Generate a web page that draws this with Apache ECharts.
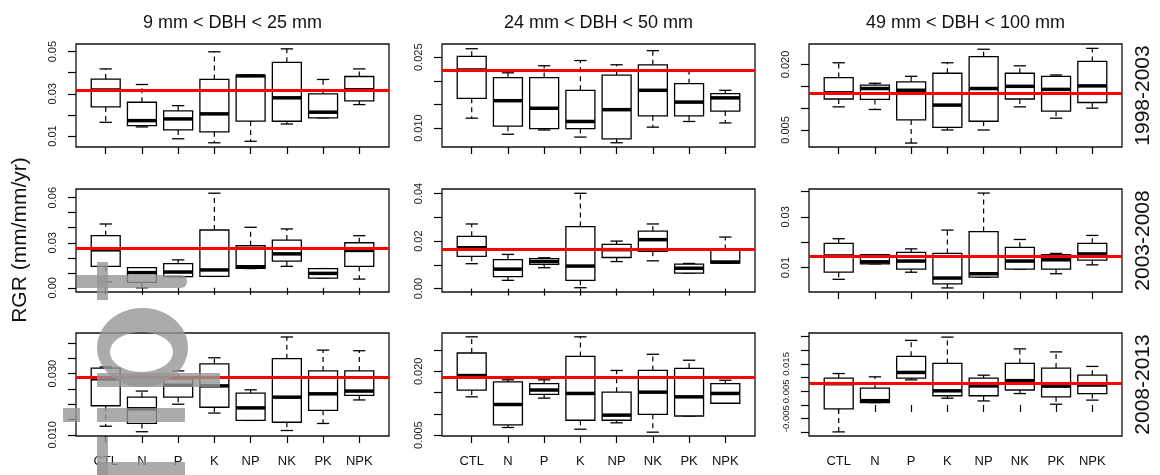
<!DOCTYPE html>
<html>
<head>
<meta charset="utf-8">
<script src="https://cdn.jsdelivr.net/npm/echarts@6/dist/echarts.min.js"></script>
<style>
html,body{margin:0;padding:0;background:#fff;}
#main{width:1160px;height:475px;}
</style>
</head>
<body>
<div id="main"></div>
<script>
// treatments on the x axis
var categories = ['CTL', 'N', 'P', 'K', 'NP', 'NK', 'PK', 'NPK'];
var colTitles = ['9 mm < DBH < 25 mm', '24 mm < DBH < 50 mm', '49 mm < DBH < 100 mm'];
var rowTitles = ['1998-2003', '2003-2008', '2008-2013'];

// box stats per treatment: [lower whisker, Q1, median, Q3, upper whisker]
var box_small_9803 = [[0.0165,0.0238,0.0318,0.0370,0.0418],[0.0143,0.0149,0.0173,0.0260,0.0344],[0.0087,0.0129,0.0181,0.0219,0.0244],[0.0068,0.0120,0.0205,0.0368,0.0499],
    [0.0075,0.0171,0.0385,0.0387,0.0389],[0.0157,0.0170,0.0281,0.0449,0.0513],[0.0186,0.0186,0.0213,0.0300,0.0368],[0.0249,0.0267,0.0319,0.0382,0.0418]];
var box_mid_9803 = [[0.0121,0.0163,0.0223,0.0252,0.0268],[0.0087,0.0104,0.0158,0.0207,0.0217],[0.0096,0.0099,0.0142,0.0207,0.0232],[0.0081,0.0099,0.0114,0.0180,0.0243],
    [0.0069,0.0077,0.0139,0.0212,0.0234],[0.0102,0.0126,0.0180,0.0234,0.0264],[0.0114,0.0126,0.0155,0.0194,0.0220],[0.0111,0.0136,0.0164,0.0173,0.0180]];
var box_large_9803 = [[0.0103,0.0121,0.0135,0.0170,0.0204],[0.0097,0.0120,0.0145,0.0153,0.0157],[0.0020,0.0073,0.0141,0.0160,0.0173],[0.0050,0.0056,0.0107,0.0180,0.0204],
    [0.0050,0.0070,0.0145,0.0218,0.0235],[0.0103,0.0121,0.0150,0.0180,0.0197],[0.0077,0.0093,0.0143,0.0173,0.0176],[0.0100,0.0113,0.0151,0.0207,0.0237]];
var box_small_0308 = [[0.0040,0.0143,0.0253,0.0347,0.0425],[0.0000,0.0036,0.0101,0.0134,0.0134],[0.0074,0.0074,0.0105,0.0161,0.0186],[0.0076,0.0076,0.0119,0.0385,0.0630],
    [0.0128,0.0130,0.0140,0.0280,0.0403],[0.0143,0.0177,0.0226,0.0318,0.0392],[0.0065,0.0065,0.0096,0.0128,0.0128],[0.0058,0.0143,0.0249,0.0300,0.0347]];
var box_mid_0308 = [[0.0105,0.0136,0.0172,0.0220,0.0272],[0.0035,0.0051,0.0082,0.0122,0.0144],[0.0088,0.0102,0.0114,0.0126,0.0130],[0.0004,0.0035,0.0095,0.0261,0.0401],
    [0.0114,0.0131,0.0164,0.0186,0.0200],[0.0117,0.0157,0.0206,0.0242,0.0272],[0.0065,0.0065,0.0086,0.0103,0.0106],[0.0107,0.0108,0.0112,0.0165,0.0217]];
var box_large_0308 = [[0.0054,0.0082,0.0146,0.0196,0.0214],[0.0115,0.0115,0.0123,0.0151,0.0151],[0.0082,0.0094,0.0126,0.0160,0.0174],[0.0020,0.0036,0.0059,0.0156,0.0248],
    [0.0063,0.0063,0.0076,0.0242,0.0394],[0.0094,0.0094,0.0126,0.0180,0.0211],[0.0076,0.0094,0.0131,0.0151,0.0156],[0.0111,0.0130,0.0154,0.0196,0.0227]];
var box_small_0813 = [[0.0128,0.0195,0.0283,0.0318,0.0322],[0.0110,0.0137,0.0185,0.0223,0.0243],[0.0200,0.0223,0.0262,0.0283,0.0309],[0.0171,0.0190,0.0260,0.0332,0.0352],
    [0.0147,0.0147,0.0188,0.0236,0.0247],[0.0114,0.0141,0.0223,0.0349,0.0420],[0.0137,0.0180,0.0234,0.0309,0.0377],[0.0214,0.0229,0.0243,0.0309,0.0375]];
var box_mid_0813 = [[0.0140,0.0156,0.0190,0.0243,0.0281],[0.0068,0.0074,0.0122,0.0175,0.0180],[0.0137,0.0146,0.0156,0.0171,0.0180],[0.0064,0.0085,0.0148,0.0235,0.0281],
    [0.0079,0.0085,0.0097,0.0151,0.0202],[0.0057,0.0099,0.0151,0.0202,0.0240],[0.0095,0.0095,0.0140,0.0207,0.0226],[0.0125,0.0125,0.0148,0.0171,0.0179]];
var box_large_0813 = [[-0.0098,-0.0014,0.0078,0.0098,0.0115],[0.0009,0.0009,0.0016,0.0062,0.0103],[0.0092,0.0098,0.0119,0.0178,0.0236],[0.0025,0.0034,0.0052,0.0152,0.0248],
    [0.0015,0.0034,0.0070,0.0098,0.0109],[0.0042,0.0055,0.0089,0.0152,0.0205],[0.0003,0.0030,0.0069,0.0135,0.0194],[0.0018,0.0042,0.0073,0.0109,0.0141]];

// overall mean (red line), row by row
var means = [0.0319, 0.0222, 0.0135, 0.0264, 0.0167, 0.0144, 0.0287, 0.0187, 0.0081];

// y scales, ticks and tick labels, row by row
var yMin = [0.0048, 0.0060, 0.0011, -0.0028, -0.0014, 0.0004, 0.0096, 0.0048, -0.0113];
var yMax = [0.0536, 0.0278, 0.0247, 0.0658, 0.0419, 0.0410, 0.0433, 0.0290, 0.0263];
var yTicks = [
    [0.01,0.02,0.03,0.04,0.05], [0.010,0.015,0.020,0.025], [0.005,0.010,0.015,0.020],
    [0,0.01,0.02,0.03,0.04,0.05,0.06], [0,0.01,0.02,0.03,0.04], [0.01,0.02,0.03,0.04],
    [0.010,0.015,0.020,0.025,0.030,0.035,0.040], [0.005,0.010,0.015,0.020,0.025], [-0.010,-0.005,0,0.005,0.010,0.015,0.020,0.025]
];
var yLabels = [
    [0.01,0.03,0.05], [0.010,0.025], [0.005,0.020],
    [0,0.03,0.06], [0,0.02,0.04], [0.01,0.03],
    [0.010,0.030], [0.005,0.020], [-0.005,0.005,0.015]
];
var yDecimals = [2, 3, 3, 2, 2, 2, 3, 3, 3];

var panels = [box_small_9803, box_mid_9803, box_large_9803,
              box_small_0308, box_mid_0308, box_large_0308,
              box_small_0813, box_mid_0813, box_large_0813];

// layout
var gridLeft = [76, 442, 809];
var gridTop = [44, 189, 333];
var gridW = 313, gridH = 103;
var FONT = 'Liberation Sans, Arial, Helvetica, sans-serif';

function renderBox(params, api) {
    var x = api.value(0);
    var pLo = api.coord([x, api.value(1)]);
    var pQ1 = api.coord([x, api.value(2)]);
    var pMd = api.coord([x, api.value(3)]);
    var pQ3 = api.coord([x, api.value(4)]);
    var pHi = api.coord([x, api.value(5)]);
    var band = api.size([1, 0])[0];
    var hw = band * 0.4, cw = band * 0.17;
    var cx = pMd[0];
    function dash() { return {stroke: '#000', lineWidth: 1.2, lineDash: [5, 4]}; }
    function thin() { return {stroke: '#000', lineWidth: 1.3}; }
    return {
        type: 'group',
        children: [
            {type: 'line', shape: {x1: cx, y1: pQ3[1], x2: cx, y2: pHi[1]}, style: dash()},
            {type: 'line', shape: {x1: cx, y1: pQ1[1], x2: cx, y2: pLo[1]}, style: dash()},
            {type: 'line', shape: {x1: cx - cw, y1: pHi[1], x2: cx + cw, y2: pHi[1]}, style: thin()},
            {type: 'line', shape: {x1: cx - cw, y1: pLo[1], x2: cx + cw, y2: pLo[1]}, style: thin()},
            {type: 'rect', shape: {x: cx - hw, y: pQ3[1], width: 2 * hw, height: pQ1[1] - pQ3[1]},
                style: {stroke: '#000', lineWidth: 1.3, fill: '#fff'}},
            {type: 'line', shape: {x1: cx - hw, y1: pMd[1], x2: cx + hw, y2: pMd[1]}, style: {stroke: '#000', lineWidth: 3.5}}
        ]
    };
}

var grids = [], xAxes = [], yAxes = [], series = [];
var catPos = categories.map(function (c, i) { return i + 1; });

for (var k = 0; k < 9; k++) {
    var row = Math.floor(k / 3), col = k % 3;
    grids.push({
        left: gridLeft[col], top: gridTop[row], width: gridW, height: gridH,
        show: true, borderColor: '#111', borderWidth: 1.3, backgroundColor: 'transparent',
        containLabel: false, outerBoundsMode: 'none'
    });
    xAxes.push({
        gridIndex: k, type: 'value', min: 0.18, max: 8.82,
        axisLine: {show: false}, splitLine: {show: false},
        axisTick: {show: true, customValues: catPos, length: 7, lineStyle: {color: '#000', width: 1.2}},
        axisLabel: {
            show: row === 2, customValues: catPos, margin: 19,
            fontSize: 13, color: '#111', fontFamily: FONT,
            formatter: function (v) { return categories[Math.round(v) - 1]; }
        }
    });
    (function (k) {
        yAxes.push({
            gridIndex: k, type: 'value', min: yMin[k], max: yMax[k],
            axisLine: {show: false}, splitLine: {show: false},
            axisTick: {show: true, customValues: yTicks[k], length: 8, lineStyle: {color: '#000', width: 1.2}},
            axisLabel: {
                customValues: yLabels[k], rotate: 90, margin: 18,
                align: 'center', verticalAlign: 'bottom', hideOverlap: false,
                fontSize: yLabels[k].length > 2 && yDecimals[k] === 3 ? 9.5 : 11,
                color: '#222', fontFamily: FONT,
                formatter: function (v) { return v.toFixed(yDecimals[k]); }
            }
        });
    })(k);
    series.push({
        type: 'custom', xAxisIndex: k, yAxisIndex: k,
        renderItem: renderBox,
        data: panels[k].map(function (s, i) { return [i + 1].concat(s); }),
        encode: {x: 0, y: [1, 2, 3, 4, 5]},
        markLine: {
            silent: true, symbol: ['none', 'none'], label: {show: false}, precision: 6,
            lineStyle: {color: '#ff0000', width: 3, type: 'solid'},
            data: [{yAxis: means[k]}]
        }
    });
}

var graphics = [];
colTitles.forEach(function (t, c) {
    graphics.push({type: 'text', x: gridLeft[c] + gridW / 2, y: 23,
        style: {text: t, fontSize: 18, fontFamily: FONT, fill: '#111', align: 'center', verticalAlign: 'middle'}});
});
rowTitles.forEach(function (t, r) {
    graphics.push({type: 'text', x: 1143, y: gridTop[r] + gridH / 2, rotation: Math.PI / 2,
        style: {text: t, fontSize: 21, fontFamily: FONT, fill: '#111', align: 'center', verticalAlign: 'middle'}});
});
graphics.push({type: 'text', x: 20, y: 240, rotation: Math.PI / 2,
    style: {text: 'RGR (mm/mm/yr)', fontSize: 21, fontFamily: FONT, fill: '#111', align: 'center', verticalAlign: 'middle'}});

// grey stamp left over on the lower-left corner of the scan
function ellipsePts(cx, cy, rx, ry, reverse) {
    var pts = [];
    for (var i = 0; i <= 48; i++) {
        var a = (reverse ? -1 : 1) * i / 48 * Math.PI * 2;
        pts.push([cx + rx * Math.cos(a), cy + ry * Math.sin(a)]);
    }
    return pts;
}
var stampFill = 'rgba(150,150,150,0.8)';
var stamp = [
    {type: 'rect', shape: {x: 77, y: 275, width: 110, height: 13, r: [0, 6, 6, 0]}},
    {type: 'rect', shape: {x: 97, y: 262, width: 11, height: 38}},
    {type: 'rect', shape: {x: 97, y: 373, width: 123, height: 14}},
    {type: 'rect', shape: {x: 97, y: 408, width: 88, height: 14}},
    {type: 'rect', shape: {x: 63, y: 408, width: 17, height: 14}},
    {type: 'rect', shape: {x: 97, y: 437, width: 11, height: 38}},
    {type: 'rect', shape: {x: 97, y: 462, width: 88, height: 13}},
    {type: 'polygon', shape: {points:
        ellipsePts(142.5, 347.5, 45.5, 39.5, false).concat(ellipsePts(141.5, 352, 31.5, 20, true))}}
];
stamp.forEach(function (g) {
    g.style = {fill: stampFill};
    g.z = 100;
    graphics.push(g);
});

var myChart = echarts.init(document.getElementById('main'), null, {renderer: 'canvas'});
myChart.setOption({
    animation: false,
    backgroundColor: '#fff',
    textStyle: {fontFamily: FONT},
    grid: grids,
    xAxis: xAxes,
    yAxis: yAxes,
    series: series,
    graphic: graphics
});
</script>
</body>
</html>
